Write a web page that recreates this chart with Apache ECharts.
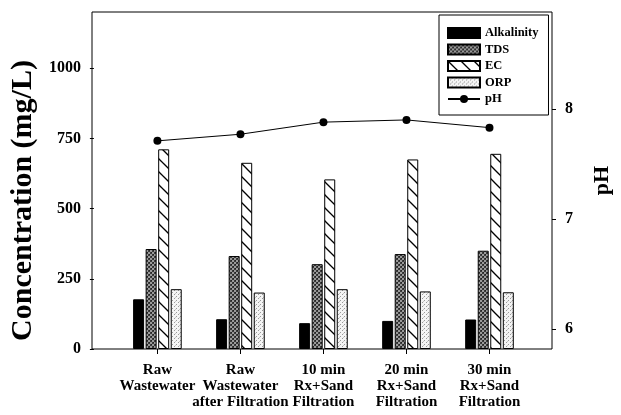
<!DOCTYPE html>
<html>
<head>
<meta charset="utf-8">
<script src="https://cdn.jsdelivr.net/npm/echarts@6.0.0/dist/echarts.min.js"></script>
<style>
  html, body { margin: 0; padding: 0; background: #fff; }
  #chart { width: 621px; height: 415px; }
</style>
</head>
<body>
<div id="chart"></div>
<script>
// values
const categories = [
  'Raw\nWastewater',
  'Raw\nWastewater\nafter Filtration',
  '10 min\nRx+Sand\nFiltration',
  '20 min\nRx+Sand\nFiltration',
  '30 min\nRx+Sand\nFiltration'
];
const alkalinity = [177, 106, 92, 100, 105];
const tds = [356, 331, 302, 338, 350];
const ec = [711, 663, 604, 675, 695];
const orp = [213, 201, 213, 205, 202];
const ph = [7.71, 7.77, 7.88, 7.90, 7.83];
const concTicks = [0, 250, 500, 750, 1000];
const phTicks = [6, 7, 8];

const FONT = 'Liberation Serif';

// fill patterns (sigmaplot style)
function makePattern(w, h, draw) {
  const c = document.createElement('canvas');
  c.width = w; c.height = h;
  draw(c.getContext('2d'));
  return { image: c, repeat: 'repeat' };
}

const tdsFill = makePattern(4, 4, function (ctx) {
  ctx.fillStyle = '#3a3a3a';
  ctx.fillRect(0, 0, 4, 4);
  ctx.fillStyle = '#9a9a9a';
  ctx.fillRect(0, 0, 2, 2);
  ctx.fillRect(2, 2, 2, 2);
  ctx.fillStyle = '#222';
  ctx.fillRect(3, 0, 1, 1);
  ctx.fillRect(1, 2, 1, 1);
});

const ecFill = makePattern(13, 13, function (ctx) {
  ctx.fillStyle = '#fff';
  ctx.fillRect(0, 0, 13, 13);
  ctx.strokeStyle = '#000';
  ctx.lineWidth = 1.3;
  [-13, 0, 13].forEach(function (o) {
    ctx.beginPath();
    ctx.moveTo(o - 1, -1);
    ctx.lineTo(o + 14, 14);
    ctx.stroke();
  });
});

const orpFill = makePattern(4, 4, function (ctx) {
  ctx.fillStyle = '#f4f4f4';
  ctx.fillRect(0, 0, 4, 4);
  ctx.fillStyle = '#9a9a9a';
  ctx.fillRect(0, 0, 1, 1);
  ctx.fillRect(2, 2, 1, 1);
  ctx.fillStyle = '#c8c8c8';
  ctx.fillRect(3, 1, 1, 1);
});

const chart = echarts.init(document.getElementById('chart'), null, { renderer: 'canvas' });

const barStyle = function (fill) {
  return { color: fill, borderColor: '#000', borderWidth: 1 };
};

const plainNumber = function (v) { return String(v); };

const option = {
  animation: false,
  backgroundColor: '#fff',
  grid: [
    // frame
    { left: 92, right: 69, top: 12, bottom: 66, show: true, borderColor: '#000', borderWidth: 1, backgroundColor: 'transparent' },
    // data area (bands narrower than the frame)
    { left: 114, right: 90, top: 12, bottom: 66 }
  ],
  legend: {
    orient: 'vertical',
    left: 439,
    top: 15,
    padding: [11, 10, 9, 8],
    itemWidth: 32,
    itemHeight: 10,
    itemGap: 2.5,
    borderColor: '#000',
    borderWidth: 1,
    backgroundColor: '#fff',
    textStyle: { fontFamily: FONT, fontWeight: 'bold', fontSize: 12.5, color: '#000', lineHeight: 14 },
    data: [
      { name: 'Alkalinity', icon: 'rect' },
      { name: 'TDS', icon: 'rect' },
      { name: 'EC', icon: 'rect' },
      { name: 'ORP', icon: 'rect' },
      { name: 'pH' }
    ]
  },
  xAxis: [
    { gridIndex: 0, type: 'value', show: false },
    {
      gridIndex: 1,
      type: 'category',
      data: categories,
      axisLine: { show: false },
      axisTick: { show: true, alignWithLabel: true, length: 5, lineStyle: { color: '#000' } },
      axisLabel: {
        interval: 0,
        margin: 13,
        color: '#000',
        fontFamily: FONT,
        fontWeight: 'bold',
        fontSize: 15,
        lineHeight: 16
      }
    }
  ],
  yAxis: [
    { gridIndex: 0, type: 'value', show: false },
    {
      gridIndex: 1,
      type: 'value',
      position: 'left',
      offset: 22,
      min: 0,
      max: 1200,
      splitLine: { show: false },
      axisLine: { show: false },
      axisTick: { show: true, length: 4, customValues: concTicks, lineStyle: { color: '#000' } },
      axisLabel: {
        customValues: concTicks,
        formatter: plainNumber,
        margin: 13,
        color: '#000',
        fontFamily: FONT,
        fontWeight: 'bold',
        fontSize: 16
      },
      name: 'Concentration (mg/L)',
      nameLocation: 'middle',
      nameGap: 53,
      nameRotate: 90,
      nameTextStyle: { fontFamily: FONT, fontWeight: 'bold', fontSize: 30, color: '#000', padding: [0, 40, 0, 0] }
    },
    {
      gridIndex: 1,
      type: 'value',
      position: 'right',
      offset: 21,
      min: 5.82,
      max: 8.88,
      splitLine: { show: false },
      axisLine: { show: false },
      axisTick: { show: true, length: 4, customValues: phTicks, lineStyle: { color: '#000' } },
      axisLabel: {
        customValues: phTicks,
        formatter: plainNumber,
        margin: 13,
        color: '#000',
        fontFamily: FONT,
        fontWeight: 'bold',
        fontSize: 16
      },
      name: 'pH',
      nameLocation: 'middle',
      nameGap: 39,
      nameRotate: 90,
      nameTextStyle: { fontFamily: FONT, fontWeight: 'bold', fontSize: 22, color: '#000' }
    }
  ],
  series: [
    { name: 'Alkalinity', type: 'bar', xAxisIndex: 1, yAxisIndex: 1, barWidth: 11, barGap: '14%', itemStyle: barStyle('#000'), data: alkalinity },
    { name: 'TDS', type: 'bar', xAxisIndex: 1, yAxisIndex: 1, barWidth: 11, barGap: '14%', itemStyle: barStyle(tdsFill), data: tds },
    { name: 'EC', type: 'bar', xAxisIndex: 1, yAxisIndex: 1, barWidth: 11, barGap: '14%', itemStyle: barStyle(ecFill), data: ec },
    { name: 'ORP', type: 'bar', xAxisIndex: 1, yAxisIndex: 1, barWidth: 11, barGap: '14%', itemStyle: barStyle(orpFill), data: orp },
    {
      name: 'pH',
      type: 'line',
      xAxisIndex: 1,
      yAxisIndex: 2,
      symbol: 'circle',
      symbolSize: 8,
      z: 5,
      lineStyle: { color: '#000', width: 1 },
      itemStyle: { color: '#000' },
      data: ph
    }
  ]
};

chart.setOption(option);
</script>
</body>
</html>
